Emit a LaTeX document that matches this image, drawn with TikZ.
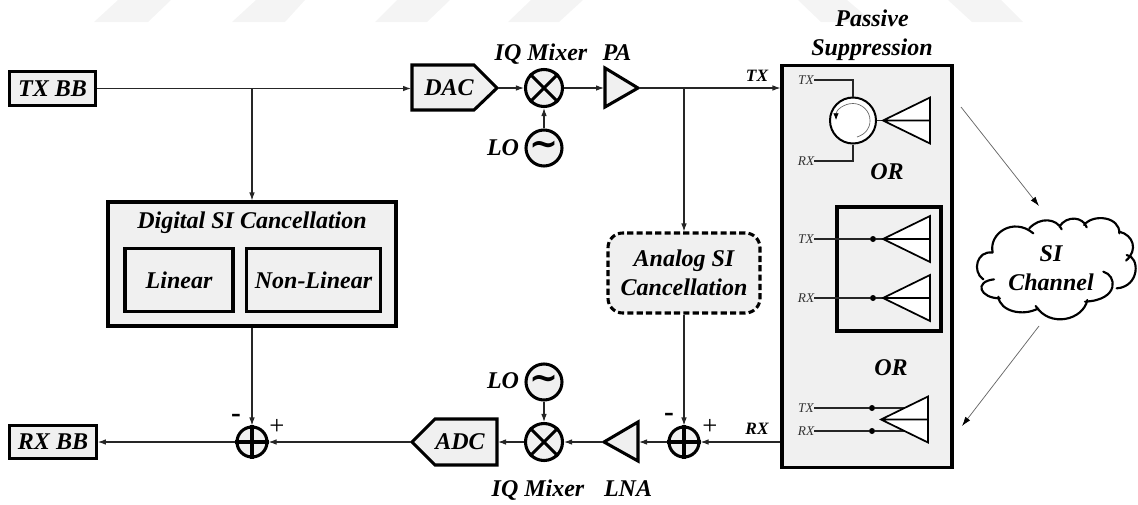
\documentclass[tikz,border=0pt]{standalone}
\usepackage{fontspec}
\setmainfont{Liberation Serif}
\newfontfamily\tildefont{DejaVu Sans}
\usetikzlibrary{arrows.meta}
\definecolor{boxfill}{HTML}{F0F0F0}
\definecolor{wm}{HTML}{F4F4F4}
\definecolor{conn}{HTML}{262626}
\tikzset{
  lab/.style={font=\fontsize{18}{21.75}\selectfont\bfseries\itshape,align=center,inner sep=0pt},
  smalllab/.style={font=\fontsize{13}{15}\selectfont\bfseries\itshape,inner sep=0pt},
  tiny/.style={font=\fontsize{10}{12}\selectfont\itshape,inner sep=0pt,text=black!80},
  signlab/.style={font=\fontsize{20}{22}\selectfont,inner sep=0pt},
  minuslab/.style={font=\fontsize{22}{24}\selectfont\bfseries,inner sep=0pt},
  tildelab/.style={font=\tildefont\fontsize{26}{26}\selectfont\bfseries,inner sep=0pt},
  box/.style={draw=black,line width=2.3pt,fill=boxfill,inner sep=0pt},
  thickshape/.style={draw=black,line width=2.3pt,fill=boxfill,line join=miter},
  circ/.style={circle,draw=black,line width=2.3pt,fill=boxfill,inner sep=0pt},
  arr/.style={draw=conn,line width=.8pt,-{Latex[length=6pt,width=4.2pt]}},
  line/.style={draw=conn,line width=.8pt},
  thinarr/.style={draw=black!60,line width=.55pt,-{Latex[length=7pt,width=4.5pt,black]}},
  inner/.style={draw=black!85,line width=1pt},
  dot/.style={circle,fill=black,inner sep=0pt,minimum size=4.5pt},
  antenna/.pic={\draw[draw=black,line width=1.3pt,fill=white,line join=miter] (0,0)--(47,-23)--(47,23)--cycle (0,0)--(47,0);},
}
\begin{document}
\begin{tikzpicture}[x=.75pt,y=-.75pt]
\useasboundingbox (0,0) rectangle (1138,504);
% watermark
\fill[wm] (94,22)--(118,0)--(171,0)--(148,22)--cycle;
\fill[wm] (232,22)--(256,0)--(305,0)--(285,22)--cycle;
\fill[wm] (375,22)--(397,0)--(450,0)--(427,22)--cycle;
\fill[wm] (508,22)--(531,0)--(583,0)--(559,22)--cycle;
\fill[wm] (798,0)--(847,0)--(873,22)--(821,22)--cycle;
\fill[wm] (948,0)--(1001,0)--(1023,22)--(972,22)--cycle;

% base band
\node[box,minimum width=65pt,minimum height=26pt,lab] (txbb) at (52.5,88.5) {TX BB};
\node[box,minimum width=65pt,minimum height=25pt,lab] (rxbb) at (53,442) {RX BB};

% upper chain
\draw[thickshape] (412,65)--(474,65)--(497,88)--(474,110)--(412,110)--cycle;
\node[lab] (dac) at (449,88) {DAC};
\coordinate (dacin) at (411,88.5);
\coordinate (dacout) at (498,88);
\node[circ,minimum size=27.75pt] (mix1) at (544,88) {};
\draw[line width=2.3pt] (mix1.north west)--(mix1.south east) (mix1.north east)--(mix1.south west);
\node[circ,minimum size=27pt] (osc1) at (544,148) {};
\node[tildelab] (til1) at (544,148) {\char"7E};
\draw[thickshape] (605,68)--(638,88)--(605,107)--cycle;
\coordinate (pain) at (604,88);
\coordinate (patip) at (639,88);
\node[lab] (iq1) at (541,54) {IQ Mixer};
\node[lab] (palab) at (617,53) {PA};
\node[lab] (lo1) at (503,148) {LO};

% lower chain
\draw[thickshape] (412,442)--(435,419)--(497,419)--(497,465)--(435,465)--cycle;
\node[lab] (adc) at (460,442) {ADC};
\coordinate (adcin) at (498,442);
\coordinate (adcout) at (411,442);
\node[circ,minimum size=27.75pt] (mix2) at (544,442) {};
\draw[line width=2.3pt] (mix2.north west)--(mix2.south east) (mix2.north east)--(mix2.south west);
\node[circ,minimum size=27pt] (osc2) at (544,382) {};
\node[tildelab] (til2) at (544,382) {\char"7E};
\draw[thickshape] (638,422)--(604,442)--(638,461)--cycle;
\coordinate (lnain) at (639,442);
\coordinate (lnaout) at (603,442);
\node[lab] (iq2) at (538,490) {IQ Mixer};
\node[lab] (lnalab) at (628,489) {LNA};
\node[lab] (lo2) at (503,381) {LO};

% summers
\node[circ,minimum size=22.5pt] (sum1) at (252,442) {};
\draw[line width=2.3pt] (sum1.north)--(sum1.south) (sum1.west)--(sum1.east);
\node[circ,minimum size=22.5pt] (sum2) at (684,442) {};
\draw[line width=2.3pt] (sum2.north)--(sum2.south) (sum2.west)--(sum2.east);
\node[minuslab] (m1) at (236,418) {-};
\node[signlab] (p1) at (277,427) {+};
\node[minuslab] (m2) at (669,417) {-};
\node[signlab] (p2) at (710,427) {+};

% digital
\node[box,minimum width=216pt,minimum height=93pt] (dig) at (252,264) {};
\node[lab] (digt) at (252,223) {Digital SI Cancellation};
\node[box,minimum width=81pt,minimum height=47pt,lab] (lin) at (179,280) {Linear};
\node[box,minimum width=101pt,minimum height=47pt,lab] (nonlin) at (313.5,280) {Non-Linear};

% analog
\node[box,dash pattern=on 4.6pt off 2.4pt,rounded corners=11pt,minimum width=114pt,minimum height=60pt,lab] (ana) at (684,273) {Analog SI\\Cancellation};

% passive box
\node[box,minimum width=127.5pt,minimum height=302pt] (pas) at (867,266.5) {};
\node[lab] (pastxt) at (872,35.5) {Passive\\Suppression};
\node[smalllab] (txl) at (757,76) {TX};
\node[smalllab] (rxl) at (757,429) {RX};

% circulator
\node[tiny] (t1) at (806,80) {TX};
\node[tiny] (r1) at (806,161) {RX};
\node[circle,draw=black,line width=1.5pt,fill=white,inner sep=0pt,minimum size=34.5pt] (cir) at (853,120.5) {};
\draw[inner] (t1.east) -- ++(1,0) -| (cir.north);
\draw[inner] (r1.east) -- ++(1,0) -| (cir.south);
\draw[draw=black!60,line width=.5pt,-{Latex[length=5pt,width=4pt,black]}] (857,137) .. controls (866,134) and (870,128) .. (870,120.5) .. controls (870,111) and (862,103.5) .. (853,103.5) .. controls (844,103.5) and (836,110) .. (836,120);
\coordinate (an1) at (883,120.5);
\draw[inner] (cir.east) -- (an1);
\pic at (an1) {antenna};
\node[lab] (or1) at (887,171.5) {OR};

% array box
\node[draw=black,line width=2.3pt,fill=boxfill,inner sep=0pt,minimum width=78pt,minimum height=93pt] (arr) at (889,269) {};
\node[tiny] (t2) at (806,239) {TX};
\node[tiny] (r2) at (806,298) {RX};
\coordinate (an2) at (883,239);
\coordinate (an3) at (883,298);
\node[dot] (d2) at (873,239) {};
\node[dot] (d3) at (873,298) {};
\draw[inner] (t2.east) -- (d2) -- (an2);
\draw[inner] (r2.east) -- (d3) -- (an3);
\pic at (an2) {antenna};
\pic at (an3) {antenna};
\node[lab] (or2) at (891,367.5) {OR};

% shared antenna
\node[tiny] (t4) at (806,408) {TX};
\node[tiny] (r4) at (806,431) {RX};
\node[dot] (d4) at (872,408) {};
\node[dot] (d5) at (872,431) {};
\coordinate (an4) at (881,419.5);
\coordinate (e4) at (906,408);
\coordinate (e5) at (906,431);
\draw[inner] (t4.east) -- (d4) -- (e4);
\draw[inner] (r4.east) -- (d5) -- (e5);
\pic at (an4) {antenna};

% cloud
\begin{scope}[shift={(970,200)},x=.25pt,y=-.25pt]
\draw[draw=black,line width=1.6pt,line cap=round]
 (68,158) .. controls (55,100) and (130,50) .. (190,100)
 (178,85) .. controls (210,50) and (260,55) .. (275,88)
 (268,80) .. controls (290,45) and (340,50) .. (350,82)
 (342,75) .. controls (370,40) and (450,50) .. (448,100)
 (448,95) .. controls (490,105) and (505,150) .. (468,182)
 (470,165) .. controls (510,170) and (510,260) .. (440,265)
 (400,215) .. controls (440,225) and (450,300) .. (345,305)
 (352,300) .. controls (340,360) and (240,385) .. (197,318)
 (205,325) .. controls (160,350) and (90,335) .. (85,290)
 (90,295) .. controls (30,295) and (10,245) .. (72,238)
 (40,238) .. controls (5,215) and (20,150) .. (68,158);
\end{scope}
\node[lab] (cloud) at (1051,268) {SI\\Channel};
\coordinate (cin) at (1039,206);
\coordinate (cout) at (1039,326);
\coordinate (pout) at (961,107);
\coordinate (pin) at (962,426);
\draw[thinarr] (pout) -- (cin);
\draw[thinarr] (cout) -- (pin);

% connectors
\draw[arr] (txbb.east) -- (txbb.east -| dacin);
\coordinate (b1) at (252,88.5);
\draw[arr] (b1) -- (dig.north);
\draw[arr] (dacout) -- (mix1.west);
\draw[arr] (mix1.east) -- (pain);
\draw[arr] (osc1.north) -- (mix1.south);
\draw[arr] (patip) -- (patip -| pas.west);
\coordinate (b2) at (684,88);
\draw[arr] (b2) -- (ana.north);
\draw[arr] (ana.south) -- (sum2.north);
\draw[arr] (sum2 -| pas.west) -- (sum2.east);
\draw[arr] (sum2.west) -- (lnain);
\draw[arr] (lnaout) -- (mix2.east);
\draw[arr] (osc2.south) -- (mix2.north);
\draw[arr] (mix2.west) -- (adcin);
\draw[arr] (adcout) -- (sum1.east);
\draw[arr] (dig.south) -- (sum1.north);
\draw[arr] (sum1.west) -- (rxbb.east);
\end{tikzpicture}
\end{document}
